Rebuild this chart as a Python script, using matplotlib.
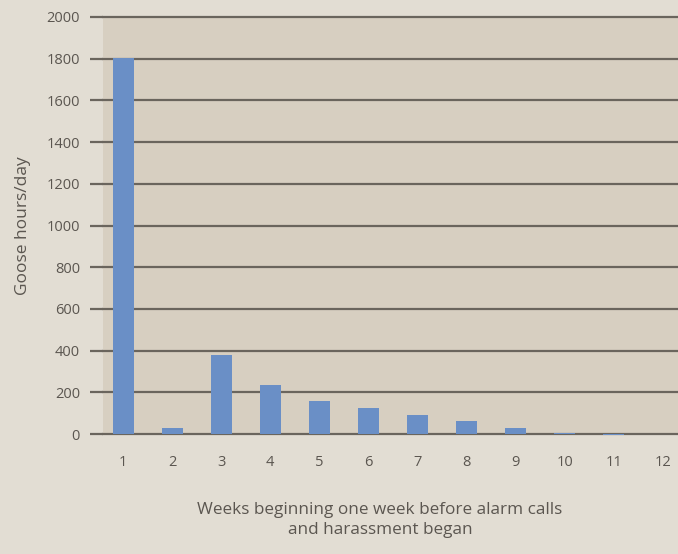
import matplotlib.pyplot as plt

# Data
weeks = [1, 2, 3, 4, 5, 6, 7, 8, 9, 10, 11, 12]
goose_hours = [1805, 30, 380, 235, 158, 125, 92, 62, 27, 5, -4, 0]
y_ticks = [0, 200, 400, 600, 800, 1000, 1200, 1400, 1600, 1800, 2000]

page_bg = '#e2ddd3'
plot_bg = '#d7cfc1'
bar_color = '#6a8fc6'
line_color = '#6a655d'
text_color = '#5b5650'

plt.rcParams['font.family'] = ['Open Sans', 'DejaVu Sans']

fig = plt.figure(figsize=(6.78, 5.54), dpi=100, facecolor=page_bg)
ax = fig.add_axes([103 / 678, 1 - 434 / 554, (678 - 103) / 678, (434 - 17) / 554])
ax.set_facecolor(plot_bg)

# grid lines drawn behind bars
for y in y_ticks:
    ax.axhline(y, color=line_color, lw=1.6, zorder=1, clip_on=False)

ax.bar(weeks, goose_hours, width=0.43, color=bar_color, zorder=2, clip_on=False)

ax.set_xlim(0.59, 12.31)
ax.set_ylim(0, 2000)
ax.set_xticks(weeks)
ax.set_yticks(y_ticks)
ax.tick_params(axis='y', length=9.5, width=1.6, color=line_color, pad=7,
               labelsize=10.5, labelcolor=text_color)
ax.tick_params(axis='x', length=0, pad=15, labelsize=10.5, labelcolor=text_color)
for s in ax.spines.values():
    s.set_visible(False)

ax.set_ylabel('Goose hours/day', fontsize=12.5, color=text_color, labelpad=11)
fig.text(380 / 678, 1 - 520 / 554, 'Weeks beginning one week before alarm calls\nand harassment began',
         ha='center', va='center', fontsize=12.3, color=text_color, linespacing=1.25)

fig.savefig('out.png', dpi=100, facecolor=page_bg)
